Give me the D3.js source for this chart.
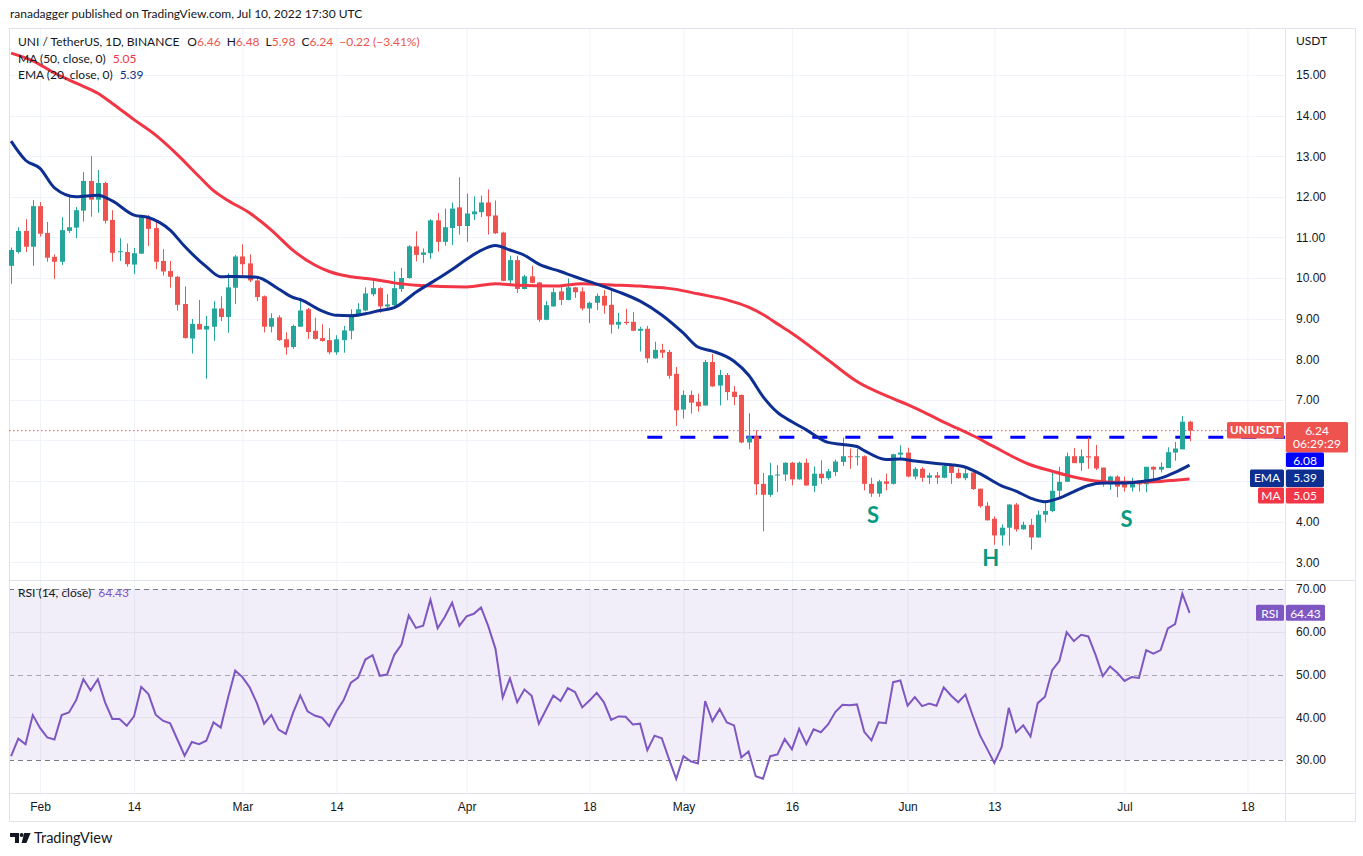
<!DOCTYPE html>
<html>
<head>
<meta charset="utf-8">
<script src="https://cdn.jsdelivr.net/npm/d3@7"></script>
<style>
  body { margin: 0; background: #fff; }
  svg { display: block; font-family: "Lato", "DejaVu Sans", sans-serif; }
</style>
</head>
<body>
<script>
// daily candles UNI/USDT, first candle 2022-01-28
const firstDay = "2022-01-28";

const opens = [10.30, 10.64, 11.16, 10.77, 11.77, 11.11, 10.52, 10.40, 11.16, 11.24,
  11.66, 12.39, 11.93, 12.34, 11.43, 10.64, 10.64, 10.33, 10.60, 11.49,
  11.23, 10.42, 10.17, 10.03, 9.36, 8.51, 8.87, 8.73, 8.80, 9.25,
  9.04, 9.76, 10.53, 10.36, 9.94, 9.55, 8.80, 9.03, 8.49, 8.30,
  8.80, 9.23, 8.70, 8.52, 8.47, 8.17, 8.47, 8.70, 9.07, 9.20,
  9.60, 9.75, 9.30, 9.33, 9.73, 10.00, 10.78, 10.57, 10.61, 11.42,
  10.89, 11.23, 11.74, 11.28, 11.57, 11.62, 11.86, 11.54, 11.12, 9.94,
  10.44, 9.73, 10.04, 9.89, 8.97, 9.30, 9.67, 9.46, 9.77, 9.67,
  9.25, 9.39, 9.56, 9.34, 8.85, 8.92, 8.92, 8.70, 8.75, 8.02,
  8.23, 8.18, 7.64, 6.76, 7.12, 6.95, 6.86, 7.93, 7.35, 7.61,
  7.20, 7.12, 5.95, 6.10, 4.93, 4.66, 5.14, 5.16, 5.45, 5.04,
  5.45, 4.88, 5.18, 5.07, 5.22, 5.47, 5.61, 5.59, 5.61, 4.93,
  4.69, 4.99, 4.93, 5.65, 5.70, 5.11, 5.30, 5.08, 5.14, 5.08,
  5.37, 5.20, 5.07, 5.21, 4.81, 4.39, 4.07, 3.66, 3.85, 4.42,
  3.81, 3.92, 3.61, 4.17, 4.26, 4.76, 4.98, 5.61, 5.44, 5.61,
  5.61, 5.33, 4.92, 5.11, 4.96, 4.84, 4.94, 4.92, 5.35, 5.28,
  5.32, 5.70, 5.78, 6.46];

const highs = [10.75, 11.25, 11.45, 11.92, 11.87, 11.38, 10.58, 11.50, 12.03, 11.75,
  12.61, 13.00, 12.66, 12.37, 11.67, 10.98, 10.85, 10.74, 11.55, 11.55,
  11.39, 10.71, 10.42, 10.05, 9.79, 8.99, 9.46, 9.07, 9.43, 9.55,
  10.12, 10.57, 10.83, 10.58, 10.05, 9.57, 9.13, 9.08, 8.66, 8.85,
  9.44, 9.26, 9.02, 8.86, 8.76, 8.59, 8.82, 9.23, 9.38, 9.77,
  9.97, 9.77, 9.60, 10.16, 10.25, 10.81, 11.15, 10.73, 11.45, 11.60,
  11.71, 11.86, 12.48, 12.08, 12.01, 12.03, 12.18, 11.91, 11.14, 10.55,
  10.55, 10.08, 10.30, 9.90, 9.43, 9.75, 9.82, 9.99, 9.78, 9.77,
  9.42, 9.62, 9.70, 9.75, 9.14, 9.24, 9.16, 8.80, 8.82, 8.43,
  8.38, 8.23, 7.81, 7.23, 7.23, 7.15, 7.98, 8.13, 7.74, 7.66,
  7.34, 7.13, 6.67, 6.25, 5.20, 5.45, 5.39, 5.46, 5.47, 5.48,
  5.55, 5.36, 5.51, 5.30, 5.53, 6.07, 5.80, 5.79, 5.63, 5.08,
  5.03, 5.18, 5.67, 5.88, 5.82, 5.34, 5.34, 5.20, 5.22, 5.42,
  5.42, 5.31, 5.35, 5.25, 4.81, 4.48, 4.13, 3.93, 4.43, 4.46,
  4.00, 4.07, 4.27, 4.46, 5.21, 5.35, 5.70, 5.81, 5.78, 6.07,
  5.89, 5.33, 5.13, 5.14, 5.11, 5.08, 4.97, 5.35, 5.36, 5.46,
  5.83, 5.96, 6.60, 6.48];

const lows = [9.86, 10.60, 10.64, 10.30, 11.02, 10.40, 9.98, 10.32, 11.11, 10.98,
  11.39, 11.51, 11.61, 11.34, 10.40, 10.42, 10.28, 10.10, 10.59, 10.79,
  10.22, 10.06, 9.76, 9.20, 8.51, 8.14, 8.73, 7.52, 8.45, 8.94,
  8.65, 9.36, 10.02, 9.90, 9.43, 8.66, 8.66, 8.45, 8.11, 8.26,
  8.80, 8.50, 8.48, 8.43, 8.12, 8.11, 8.16, 8.49, 9.05, 9.18,
  9.55, 9.14, 9.20, 9.29, 9.66, 9.98, 10.41, 10.37, 10.47, 10.65,
  10.80, 10.81, 11.07, 10.89, 11.43, 11.50, 11.07, 11.08, 9.92, 9.81,
  9.63, 9.72, 9.87, 8.92, 8.96, 9.29, 9.33, 9.45, 9.51, 9.20,
  8.89, 9.21, 9.12, 8.63, 8.75, 8.85, 8.69, 8.19, 7.91, 8.01,
  8.03, 7.52, 6.36, 6.54, 6.66, 6.71, 6.85, 7.32, 6.86, 6.99,
  6.87, 5.93, 5.78, 4.66, 3.76, 4.61, 4.73, 5.00, 4.89, 5.03,
  4.88, 4.73, 4.93, 5.03, 5.12, 5.37, 5.30, 5.38, 4.77, 4.61,
  4.61, 4.77, 4.91, 5.55, 5.09, 5.04, 4.98, 4.93, 4.93, 5.07,
  4.93, 5.06, 5.02, 4.78, 4.34, 4.03, 3.43, 3.41, 3.41, 3.75,
  3.80, 3.31, 3.60, 3.98, 4.23, 4.56, 4.98, 5.44, 5.25, 5.30,
  5.27, 4.86, 4.78, 4.60, 4.74, 4.74, 4.74, 4.72, 5.03, 5.21,
  5.32, 5.50, 5.78, 5.98];

const closes = [10.69, 11.16, 10.77, 11.77, 11.09, 10.50, 10.40, 11.18, 11.25, 11.67,
  12.39, 11.93, 12.34, 11.41, 10.62, 10.66, 10.34, 10.61, 11.51, 11.21,
  10.40, 10.16, 10.03, 9.34, 8.52, 8.87, 8.73, 8.82, 9.25, 9.04,
  9.77, 10.53, 10.34, 9.94, 9.53, 8.80, 9.01, 8.47, 8.29, 8.82,
  9.20, 8.67, 8.50, 8.45, 8.17, 8.49, 8.71, 9.11, 9.23, 9.62,
  9.75, 9.30, 9.35, 9.75, 10.00, 10.78, 10.57, 10.63, 11.42, 10.89,
  11.25, 11.71, 11.28, 11.59, 11.64, 11.86, 11.52, 11.10, 9.93, 10.44,
  9.73, 10.04, 9.88, 8.97, 9.33, 9.65, 9.46, 9.77, 9.65, 9.25,
  9.39, 9.56, 9.32, 8.85, 8.92, 8.89, 8.70, 8.75, 8.02, 8.23,
  8.16, 7.59, 6.74, 7.12, 6.93, 6.84, 7.93, 7.33, 7.61, 7.19,
  7.07, 5.95, 6.10, 4.92, 4.66, 5.14, 5.16, 5.45, 5.04, 5.45,
  4.89, 5.18, 5.07, 5.24, 5.48, 5.61, 5.59, 5.61, 4.93, 4.69,
  4.99, 4.93, 5.66, 5.70, 5.11, 5.30, 5.08, 5.14, 5.08, 5.37,
  5.20, 5.07, 5.19, 4.80, 4.38, 4.03, 3.66, 3.85, 4.42, 3.81,
  3.92, 3.61, 4.17, 4.26, 4.76, 4.98, 5.61, 5.44, 5.61, 5.58,
  5.31, 4.92, 5.11, 4.86, 4.84, 4.93, 4.92, 5.35, 5.28, 5.35,
  5.71, 5.80, 6.46, 6.24];

const rsiValues = [30.9, 35.0, 33.7, 40.5, 37.5, 35.3, 34.8, 40.5, 41.1, 44.0,
  48.9, 46.3, 48.9, 43.5, 39.6, 39.6, 38.0, 40.2, 47.1, 45.4,
  40.6, 39.2, 38.6, 34.8, 31.0, 34.2, 33.7, 34.5, 38.8, 37.6,
  44.5, 50.9, 49.4, 47.0, 43.3, 38.5, 40.5, 37.1, 36.1, 41.0,
  45.1, 41.4, 40.4, 39.9, 37.9, 41.4, 44.0, 48.1, 49.3, 53.5,
  54.5, 49.7, 50.0, 54.6, 57.0, 63.8, 60.9, 61.4, 67.5, 60.8,
  63.5, 66.8, 61.4, 63.6, 64.2, 65.7, 61.3, 56.0, 44.6, 49.1,
  43.5, 46.5, 45.0, 38.5, 41.8, 45.1, 43.8, 46.8, 45.9, 42.3,
  43.9, 45.7, 43.5, 39.4, 40.2, 40.1, 38.3, 38.5, 32.3, 35.7,
  35.1, 30.2, 25.6, 30.9, 29.7, 29.2, 43.8, 39.1, 41.9, 38.8,
  38.1, 30.6, 32.0, 26.2, 25.6, 30.9, 31.3, 34.9, 32.5, 37.3,
  33.7, 37.2, 36.5, 38.3, 41.2, 42.9, 42.8, 43.0, 36.6, 34.6,
  38.8, 38.6, 48.2, 48.6, 42.7, 44.7, 42.6, 43.2, 42.7, 47.0,
  45.1, 43.5, 45.3, 40.4, 35.8, 32.6, 29.3, 33.0, 42.2, 36.5,
  38.1, 35.5, 43.3, 44.8, 51.0, 53.2, 59.9, 57.8, 59.3, 58.9,
  54.6, 49.6, 51.9, 50.4, 48.5, 49.4, 49.2, 55.7, 54.9, 55.7,
  60.8, 61.8, 68.9, 64.43];

// moving averages: [candle number, value]
const ema20 = [[1, 13.37], [3, 12.90], [5, 12.70], [7, 12.22], [10, 12.00], [13, 12.04], [15, 11.90],
  [18, 11.55], [20, 11.49], [23, 11.18], [25, 10.78], [28, 10.28], [30, 10.03], [32, 10.04], [35, 10.02],
  [38, 9.73], [40, 9.52], [41, 9.47], [44, 9.19], [46, 9.08], [48, 9.07], [50, 9.12], [52, 9.20], [54, 9.27],
  [57, 9.65], [60, 9.98], [62, 10.21], [64, 10.46], [66, 10.68], [68, 10.80], [70, 10.69], [72, 10.56],
  [74, 10.34], [77, 10.16], [79, 10.03], [81, 9.91], [85, 9.66], [88, 9.43], [91, 9.09], [94, 8.64],
  [96, 8.30], [98, 8.20], [101, 7.95], [103, 7.61], [105, 7.08], [107, 6.69], [109, 6.46], [111, 6.26],
  [114, 5.95], [116, 5.90], [118, 5.85], [119, 5.75], [122, 5.53], [124, 5.54], [126, 5.49], [129, 5.43],
  [131, 5.40], [133, 5.34], [135, 5.18], [138, 4.88], [140, 4.75], [142, 4.58], [144, 4.49], [146, 4.58],
  [148, 4.74], [150, 4.89], [152, 4.95], [155, 4.95], [157, 4.98], [160, 5.07], [162, 5.21], [164, 5.39]];

const ma50 = [[1, 15.54], [4, 15.35], [7, 15.05], [10, 14.80], [13, 14.55], [15, 14.30], [18, 13.90],
  [21, 13.52], [24, 13.04], [27, 12.50], [29, 12.15], [31, 11.91], [34, 11.60], [37, 11.18], [40, 10.68],
  [43, 10.32], [45, 10.16], [48, 10.03], [51, 9.97], [54, 9.88], [57, 9.82], [64, 9.78], [68, 9.86],
  [71, 9.82], [76, 9.80], [80, 9.86], [84, 9.83], [88, 9.80], [93, 9.72], [96, 9.61], [100, 9.46],
  [103, 9.28], [105, 9.10], [107, 8.87], [109, 8.64], [114, 7.98], [118, 7.45], [123, 7.03], [125, 6.88],
  [128, 6.63], [130, 6.45], [132, 6.29], [134, 6.12], [137, 5.84], [140, 5.56], [142, 5.40], [145, 5.24],
  [148, 5.10], [151, 5.00], [154, 4.97], [157, 4.97], [160, 4.99], [162, 5.02], [164, 5.05]];

const tickDates = ["2022-02-01", "2022-02-14", "2022-03-01", "2022-03-14", "2022-04-01", "2022-04-18",
  "2022-05-01", "2022-05-16", "2022-06-01", "2022-06-13", "2022-07-01", "2022-07-18"];
const tickLabels = ["Feb", "14", "Mar", "14", "Apr", "18", "May", "16", "Jun", "13", "Jul", "18"];
const priceTicks = [3, 4, 5, 6, 7, 8, 9, 10, 11, 12, 13, 14, 15];
// 5.00 and 6.00 are hidden behind the value tags
const priceLabels = [3, 4, 7, 8, 9, 10, 11, 12, 13, 14, 15];
const rsiTicks = [30, 40, 50, 60, 70];

const necklinePrice = 6.08, necklineFrom = 89;
const patternLabels = ["S", "H", "S"];
const patternIdx = [120.2, 136.5, 155.3];
const patternPrice = [4.16, 3.10, 4.06];

// ---- layout
const W = 1363, H = 856;
const L = 9, R = 1285, FR = 1355, TOP = 28, MAIN_B = 580, RSI_B = 793, AX_B = 821;
const UP = "#26a69a", DOWN = "#ef5350", TXT = "#131722", GRID = "#f0f3fa", BORDER = "#e0e3eb";

const parse = d3.utcParse("%Y-%m-%d");
const start = parse(firstDay);
const x = d3.scaleUtc().domain([parse("2022-02-01"), parse("2022-07-18")]).range([40, 1247.4]);
const dayX = n => x(d3.utcHour.offset(start, Math.round((n - 1) * 24)));
const y = d3.scaleLinear().domain([3, 15]).range([562.2, 75]);
const yR = d3.scaleLinear().domain([30, 70]).range([760, 589]);

const svg = d3.select("body").append("svg").attr("width", W).attr("height", H);

svg.append("text").attr("x", 10).attr("y", 18).attr("font-size", 12).attr("fill", TXT)
  .text("ranadagger published on TradingView.com, Jul 10, 2022 17:30 UTC");

const defs = svg.append("defs");
defs.append("clipPath").attr("id", "mainClip").append("rect")
  .attr("x", L).attr("y", TOP).attr("width", R - L).attr("height", MAIN_B - TOP);
defs.append("clipPath").attr("id", "rsiClip").append("rect")
  .attr("x", L).attr("y", MAIN_B).attr("width", R - L).attr("height", RSI_B - MAIN_B);

// grid
const grid = svg.append("g");
grid.selectAll(".vg").data(tickDates).join("line")
  .attr("x1", d => x(parse(d)) + 0.5).attr("x2", d => x(parse(d)) + 0.5)
  .attr("y1", TOP).attr("y2", RSI_B).attr("stroke", GRID);
grid.selectAll(".hg").data(priceTicks).join("line")
  .attr("x1", L).attr("x2", R).attr("y1", d => Math.round(y(d)) + 0.5).attr("y2", d => Math.round(y(d)) + 0.5)
  .attr("stroke", GRID);

// rsi band + levels
svg.append("rect").attr("x", L).attr("width", R - L).attr("y", yR(70)).attr("height", yR(30) - yR(70))
  .attr("fill", "#7e57c2").attr("fill-opacity", 0.1);
svg.append("g").selectAll("line").data([60, 40]).join("line")
  .attr("x1", L).attr("x2", R).attr("y1", d => Math.round(yR(d)) + 0.5).attr("y2", d => Math.round(yR(d)) + 0.5)
  .attr("stroke", "#e4e1ef");
svg.append("g").selectAll("line").data([70, 50, 30]).join("line")
  .attr("x1", L).attr("x2", R).attr("y1", d => Math.round(yR(d)) + 0.5).attr("y2", d => Math.round(yR(d)) + 0.5)
  .attr("stroke", d => d === 50 ? "#aaa6b8" : "#787b86").attr("stroke-dasharray", "5,4");

// frame
svg.append("rect").attr("x", L + 0.5).attr("y", TOP + 0.5).attr("width", FR - L).attr("height", AX_B - TOP)
  .attr("fill", "none").attr("stroke", BORDER);
svg.append("line").attr("x1", R + 0.5).attr("x2", R + 0.5).attr("y1", TOP).attr("y2", AX_B).attr("stroke", BORDER);
svg.append("line").attr("x1", L).attr("x2", FR).attr("y1", MAIN_B + 0.5).attr("y2", MAIN_B + 0.5).attr("stroke", BORDER);
svg.append("line").attr("x1", L).attr("x2", FR).attr("y1", RSI_B + 0.5).attr("y2", RSI_B + 0.5).attr("stroke", BORDER);

// main pane
const main = svg.append("g").attr("clip-path", "url(#mainClip)");

// current price dotted line
main.append("line").attr("x1", L).attr("x2", R).attr("y1", y(6.24)).attr("y2", y(6.24))
  .attr("stroke", DOWN).attr("stroke-width", 1).attr("stroke-dasharray", "1.5,2.5");

// neckline
main.append("line").attr("x1", dayX(necklineFrom)).attr("x2", R).attr("y1", y(necklinePrice)).attr("y2", y(necklinePrice))
  .attr("stroke", "#0000ff").attr("stroke-width", 3).attr("stroke-dasharray", "15,18");

const candles = closes.map((c, i) => ({ n: i + 1, o: opens[i], h: highs[i], l: lows[i], c }));
const cg = main.append("g");
cg.selectAll("line").data(candles).join("line")
  .attr("x1", d => Math.round(dayX(d.n)) + 0.5).attr("x2", d => Math.round(dayX(d.n)) + 0.5)
  .attr("y1", d => y(d.h)).attr("y2", d => y(d.l))
  .attr("stroke", d => d.c >= d.o ? UP : DOWN);
cg.selectAll("rect").data(candles).join("rect")
  .attr("x", d => Math.round(dayX(d.n)) - 2).attr("width", 5)
  .attr("y", d => y(Math.max(d.o, d.c)))
  .attr("height", d => Math.max(1, Math.abs(y(d.o) - y(d.c))))
  .attr("fill", d => d.c >= d.o ? UP : DOWN);

const avgLine = d3.line().x(d => dayX(d[0])).y(d => y(d[1])).curve(d3.curveMonotoneX);
main.append("path").attr("d", avgLine(ma50)).attr("fill", "none").attr("stroke", "#f23645").attr("stroke-width", 3);
main.append("path").attr("d", avgLine(ema20)).attr("fill", "none").attr("stroke", "#0d2f91").attr("stroke-width", 3);

main.selectAll(".pat").data(patternLabels).join("text")
  .attr("x", (d, i) => dayX(patternIdx[i])).attr("y", (d, i) => y(patternPrice[i]))
  .attr("dy", "0.36em")
  .attr("text-anchor", "middle").attr("font-size", 22).attr("font-weight", 700)
  .attr("fill", "#089981").text(d => d);

// rsi
svg.append("path").attr("clip-path", "url(#rsiClip)")
  .attr("d", d3.line().x((d, i) => dayX(i + 1)).y(d => yR(d))(rsiValues))
  .attr("fill", "none").attr("stroke", "#7e57c2").attr("stroke-width", 2);

// axes
const yAxis = svg.append("g").attr("transform", `translate(${R},0)`)
  .call(d3.axisRight(y).tickValues(priceLabels).tickFormat(d3.format(".2f")).tickSize(0).tickPadding(11));
const rAxis = svg.append("g").attr("transform", `translate(${R},0)`)
  .call(d3.axisRight(yR).tickValues(rsiTicks).tickFormat(d3.format(".2f")).tickSize(0).tickPadding(11));
const xAxis = svg.append("g").attr("transform", `translate(0,${RSI_B})`)
  .call(d3.axisBottom(x).tickValues(tickDates.map(parse)).tickFormat((d, i) => tickLabels[i]).tickSize(0).tickPadding(9));
[yAxis, rAxis, xAxis].forEach(a => {
  a.select(".domain").remove();
  a.selectAll("text").attr("fill", TXT).attr("font-size", 12).attr("font-family", null);
});
svg.append("text").attr("x", R + 11).attr("y", 45).attr("font-size", 12).attr("fill", TXT).text("USDT");

// right-side value tags
function tag(x0, x1, top, h, fill, lines, bold) {
  const g = svg.append("g");
  g.append("rect").attr("x", x0).attr("y", top).attr("width", x1 - x0).attr("height", h).attr("fill", fill).attr("rx", 1.5);
  lines.forEach((t, i) => g.append("text").attr("x", (x0 + x1) / 2).attr("y", top + 8.5 + i * 13.5)
    .attr("dy", "0.35em").attr("text-anchor", "middle").attr("font-size", bold ? 11.5 : 12)
    .attr("font-weight", bold ? 700 : 400).attr("fill", "#fff").text(t));
}
const tLast = y(6.24) - 8.7;
tag(1227, 1284, tLast, 16.5, DOWN, ["UNIUSDT"], true);
tag(R + 1, 1348, tLast, 30.5, DOWN, ["6.24", "06:29:29"]);
tag(R + 1, 1324, tLast + 30.5, 14.5, "#0000ff", ["6.08"]);
tag(1250, 1284, tLast + 47.5, 17.5, "#0d2f91", ["EMA"]);
tag(R + 1, 1324, tLast + 47.5, 17.5, "#0d2f91", ["5.39"]);
tag(1258, 1284, tLast + 65.5, 16, "#f23645", ["MA"]);
tag(R + 1, 1324, tLast + 65.5, 16, "#f23645", ["5.05"]);
const tR = yR(64.43) - 8;
tag(1256, 1284, tR, 16, "#7e57c2", ["RSI"]);
tag(R + 1, 1325, tR, 16, "#7e57c2", ["64.43"]);

// legend rows, laid out left to right
function legendRow(yPos, parts) {
  let cx = 18;
  parts.forEach(([txt, col, gap]) => {
    const t = svg.append("text").attr("x", cx).attr("y", yPos).attr("font-size", 12).attr("fill", col).text(txt);
    cx += t.node().getComputedTextLength() + gap;
  });
}
legendRow(46, [["UNI / TetherUS, 1D, BINANCE", TXT, 8], ["O", TXT, 0], ["6.46", DOWN, 6], ["H", TXT, 0], ["6.48", DOWN, 6],
  ["L", TXT, 0], ["5.98", DOWN, 6], ["C", TXT, 0], ["6.24", DOWN, 6], ["\u22120.22 (\u22123.41%)", DOWN, 0]]);
legendRow(63, [["MA (50, close, 0)", TXT, 7], ["5.05", "#f23645", 0]]);
legendRow(79, [["EMA (20, close, 0)", TXT, 7], ["5.39", "#0d2f91", 0]]);
legendRow(597, [["RSI (14, close)", TXT, 7], ["64.43", "#7e57c2", 0]]);

// footer logo
const logo = svg.append("g").attr("fill", TXT);
logo.append("path").attr("d", "M10,833 H19 V843 H15 V837 H10 Z");
logo.append("circle").attr("cx", 21.6).attr("cy", 835).attr("r", 2);
logo.append("path").attr("d", "M24.2,833 H30.6 L26.4,843 H21.6 Z");
svg.append("text").attr("x", 34).attr("y", 843).attr("font-size", 14.5).attr("fill", TXT).text("TradingView");
</script>
</body>
</html>
